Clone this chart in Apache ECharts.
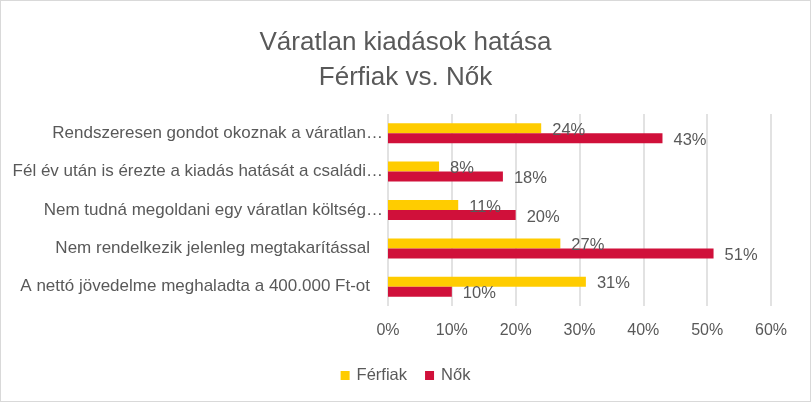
<!DOCTYPE html>
<html>
<head>
<meta charset="utf-8">
<script src="https://cdn.jsdelivr.net/npm/echarts@6/dist/echarts.min.js"></script>
<style>
html,body{margin:0;padding:0;background:#fff;}
#chart{width:809px;height:400px;border:1px solid #d9d9d9;}
</style>
</head>
<body>
<div id="chart"></div>
<script>
// kategóriák (alulról felfelé, ahogy az ECharts rajzolja)
var categories = [
	'A nettó jövedelme meghaladta a 400.000 Ft-ot',
	'Nem rendelkezik jelenleg megtakarítással',
	'Nem tudná megoldani egy váratlan költség…',
	'Fél év után is érezte a kiadás hatását a családi…',
	'Rendszeresen gondot okoznak a váratlan…'
];
var ferfiak = [31, 27, 11, 8, 24];
var nok = [10, 51, 20, 18, 43];
var xTicks = [0, 10, 20, 30, 40, 50, 60];

var fontName = 'Liberation Sans';
var textColor = '#595959';

var myChart = echarts.init(document.getElementById('chart'));
var option = {
	animation: false,
	textStyle: {fontFamily: fontName},
	title: {
		text: 'Váratlan kiadások hatása\nFérfiak vs. Nők',
		left: 'center',
		top: 19,
		textStyle: {fontFamily: fontName, fontSize: 26, fontWeight: 'normal', color: textColor, lineHeight: 35}
	},
	legend: {
		data: ['Férfiak', 'Nők'],
		top: 361,
		left: 'center',
		itemWidth: 9,
		itemHeight: 9,
		itemGap: 18,
		icon: 'rect',
		textStyle: {fontFamily: fontName, fontSize: 16.5, color: textColor, padding: [0, 0, 0, 2]}
	},
	grid: {
		left: 387,
		right: 39,
		top: 113,
		bottom: 95
	},
	xAxis: {
		type: 'value',
		min: xTicks[0],
		max: xTicks[xTicks.length - 1],
		interval: 10,
		axisLine: {show: false},
		axisTick: {show: false},
		axisLabel: {formatter: '{value}%', fontSize: 16, color: textColor, margin: 17},
		splitLine: {lineStyle: {color: '#d9d9d9', width: 1.5}}
	},
	yAxis: {
		type: 'category',
		data: categories,
		axisLine: {show: false},
		axisTick: {show: false},
		axisLabel: {
			fontSize: 17, color: textColor, margin: 5,
			// a nem levágott feliratok kicsit beljebb végződnek
			formatter: function(v){
				return v.indexOf('…') < 0 ? '{p|' + v + '}' : v;
			},
			rich: {p: {fontSize: 17, color: textColor, padding: [0, 13, 0, 0]}}
		}
	},
	series: [
		{
			name: 'Férfiak',
			type: 'bar',
			data: ferfiak,
			barWidth: 10,
			barGap: '0%',
			itemStyle: {color: '#ffcc00'},
			label: {show: true, position: 'right', distance: 11, offset: [0, 2], formatter: '{c}%', fontSize: 16.5, color: textColor}
		},
		{
			name: 'Nők',
			type: 'bar',
			data: nok,
			barWidth: 10,
			barGap: '0%',
			itemStyle: {color: '#d0103a'},
			label: {show: true, position: 'right', distance: 11, offset: [0, 2], formatter: '{c}%', fontSize: 16.5, color: textColor}
		}
	]
};
myChart.setOption(option);
</script>
</body>
</html>
